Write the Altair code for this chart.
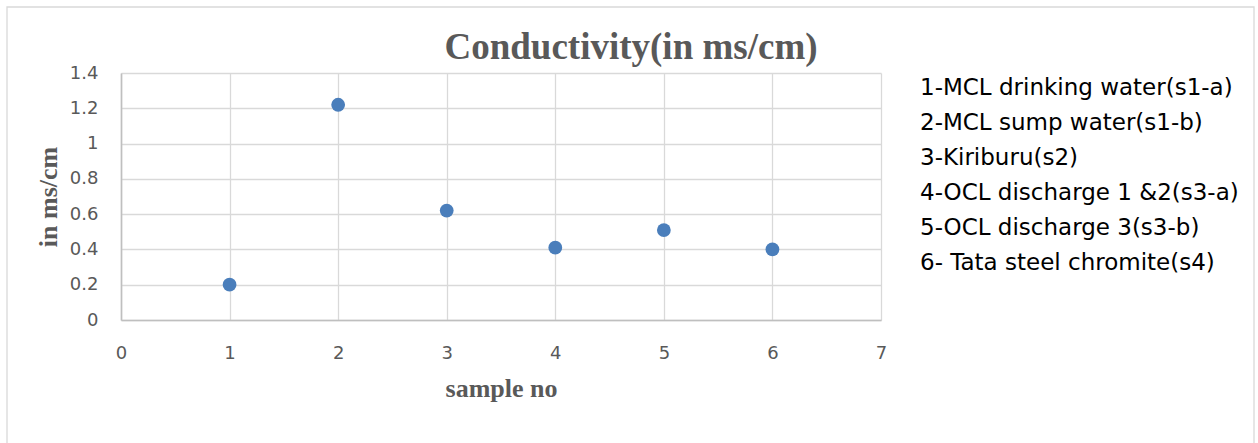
import altair as alt
import pandas as pd

samples = [1, 2, 3, 4, 5, 6]
conductivity = [0.20, 1.22, 0.62, 0.41, 0.51, 0.40]
labels = [
    "1-MCL drinking water(s1-a)",
    "2-MCL sump water(s1-b)",
    "3-Kiriburu(s2)",
    "4-OCL discharge 1 &2(s3-a)",
    "5-OCL discharge 3(s3-b)",
    "6- Tata steel chromite(s4)",
]
x_ticks = [0, 1, 2, 3, 4, 5, 6, 7]
y_ticks = [0, 0.2, 0.4, 0.6, 0.8, 1.0, 1.2, 1.4]

df = pd.DataFrame({"sample": samples, "value": conductivity, "label": labels})

SANS = "DejaVu Sans"
SERIF = "Liberation Serif"
GRAY = "#595959"

points = alt.Chart(df).mark_point(
    filled=True, shape="circle", size=190, opacity=1
).encode(
    x=alt.X(
        "sample:Q",
        scale=alt.Scale(domain=[0, 7], nice=False, zero=False),
        axis=alt.Axis(
            values=x_ticks, format="d", title="sample no",
            ticks=False, labelPadding=38, labelBaseline="alphabetic",
            labelFlush=False, labelOverlap=False,
            labelFont=SANS, labelFontSize=18, labelColor=GRAY,
            titleFont=SERIF, titleFontSize=26, titleFontWeight="bold", titleColor=GRAY,
            titleX=380, titleY=76, titleBaseline="alphabetic", titleAlign="center",
            grid=True, gridColor="#d9d9d9", gridWidth=1.3,
            domainColor="#bfbfbf", domainWidth=1.6,
        ),
    ),
    y=alt.Y(
        "value:Q",
        scale=alt.Scale(domain=[0, 1.4], nice=False),
        axis=alt.Axis(
            values=y_ticks, title="in ms/cm",
            labelExpr="format(datum.value, '.1~f')",
            ticks=False, labelPadding=23, labelFlush=False, labelOverlap=False,
            labelFont=SANS, labelFontSize=18, labelColor=GRAY,
            titleFont=SERIF, titleFontSize=26, titleFontWeight="bold", titleColor=GRAY,
            titleX=-65, titleY=123.5, titleBaseline="alphabetic", titleAlign="center",
            titleAngle=-90,
            grid=True, gridColor="#d9d9d9", gridWidth=1.3,
            domainColor="#bfbfbf", domainWidth=1.6,
        ),
    ),
    color=alt.Color(
        "label:N",
        scale=alt.Scale(domain=labels, range=["#4a7ebb"] * len(labels)),
        legend=alt.Legend(
            title=None, orient="none", legendX=776, legendY=3,
            symbolSize=0, symbolOpacity=0, symbolStrokeWidth=0,
            labelOffset=0, labelFont=SANS, labelFontSize=23,
            labelColor="black", rowPadding=11, labelLimit=500, padding=0,
        ),
    ),
)

frame = alt.Chart(pd.DataFrame({"f": [0]})).mark_rect(
    fill=None, stroke="#d9d9d9", strokeWidth=1.3
).encode(
    x=alt.value(-114), x2=alt.value(1133), y=alt.value(-66), y2=alt.value(470)
)

chart = alt.layer(frame, points).properties(
    width=760,
    height=247,
    title=alt.TitleParams(
        "Conductivity(in ms/cm)", font=SERIF, fontSize=37, fontWeight="bold",
        color=GRAY, anchor="middle", dx=130, offset=0, dy=90,
        baseline="alphabetic",
    ),
    padding={"left": 121, "top": 73, "right": 377, "bottom": 123},
    autosize=alt.AutoSizeParams(type="none"),
    background="white",
).configure_view(stroke=None)

chart.save("out.html", embed_options={"renderer": "svg", "actions": False})
